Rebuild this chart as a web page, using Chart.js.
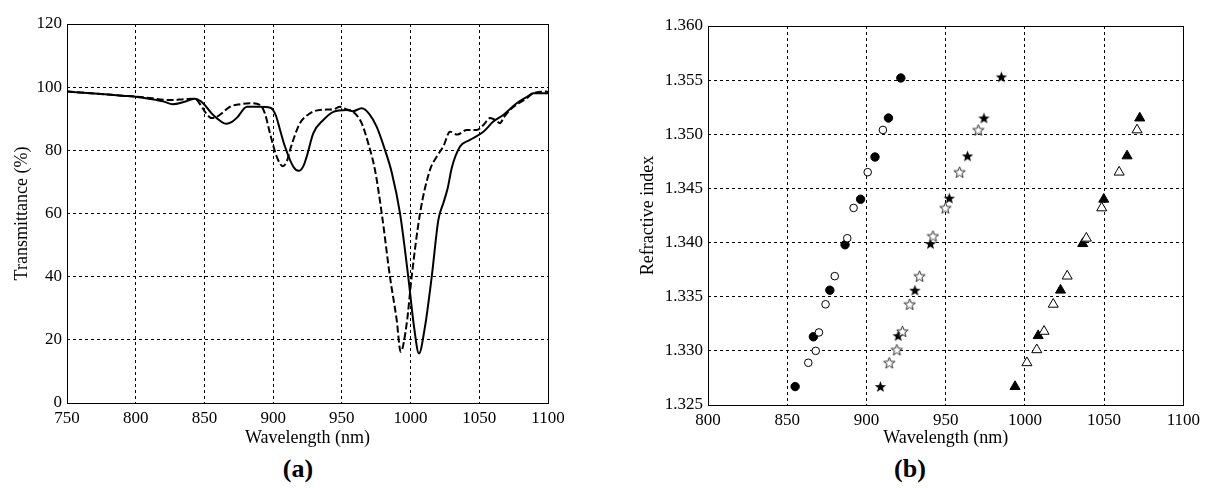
<!DOCTYPE html>
<html>
<head>
<meta charset="utf-8">
<script src="https://cdn.jsdelivr.net/npm/chart.js@4.4.1/dist/chart.umd.min.js"></script>
<style>
  body { margin: 0; background: #fff; width: 1205px; height: 488px; overflow: hidden; position: relative; }
  .box { position: absolute; top: 0; height: 450px; }
  #boxA { left: 0; width: 600px; }
  #boxB { left: 600px; width: 605px; }
  .tag { position: absolute; top: 454px; font: bold 26px "Liberation Serif", serif; transform: translateX(-50%); }
</style>
</head>
<body>
<div id="boxA" class="box"><canvas id="chartA"></canvas></div>
<div id="boxB" class="box"><canvas id="chartB"></canvas></div>
<div class="tag" style="left:298px">(a)</div>
<div class="tag" style="left:910px">(b)</div>
<script>
// ---------- (a) transmittance spectra ----------
const xTicksA = [750, 800, 850, 900, 950, 1000, 1050, 1100];
const yTicksA = [0, 20, 40, 60, 80, 100, 120];

const solidWl = [750, 770, 790, 800, 812, 820, 827, 835, 843, 849, 855, 859, 866, 870, 874, 881, 890, 898, 902, 905,
  908.6, 914.7, 918.5, 922, 924.4, 929.2, 936.5, 943.8, 953.5, 958, 964.4, 970, 975.3, 981.4, 986.3, 992.3, 998.3,
  1002.5, 1006.1, 1010.5, 1015.4, 1020.2, 1024, 1027, 1030, 1036, 1043.2, 1053, 1060.2, 1067.5, 1077.2, 1085, 1089.3, 1100];
const solidT = [98.6, 98.0, 97.3, 97.0, 96.2, 95.5, 94.6, 95.3, 96.3, 94.9, 91.8, 90.2, 88.4, 89.0, 90.5, 93.8, 93.8, 93.5, 91.0, 86.5,
  81.2, 74.8, 73.5, 75.0, 78.0, 85.4, 89.6, 92.2, 92.8, 92.4, 93.3, 91.5, 87.5, 80.1, 73.0, 60.1, 40.0,
  24.2, 15.7, 24.2, 40.0, 57.9, 63.5, 68.0, 74.5, 81.2, 83.3, 85.9, 89.1, 91.2, 94.9, 97.0, 98.1, 98.1];

const dashedWl = [750, 770, 790, 800, 812, 820, 827, 835, 843, 847, 850.4, 855.3, 859, 862.6, 868.6, 875.9, 883, 890.4, 894,
  897.7, 902.6, 907, 910, 912.3, 916, 919.5, 926.8, 934, 943.8, 948.6, 953, 958.3, 964.4, 969.2, 974.1, 979, 985,
  989.9, 992.8, 997.2, 1000.8, 1006.9, 1014.1, 1019, 1023.8, 1028.7, 1034, 1040.8, 1048, 1053, 1057.8, 1062, 1065,
  1068, 1072.3, 1084.5, 1089.3, 1099, 1100];
const dashedT = [98.6, 98.0, 97.3, 97.0, 96.5, 96.0, 95.9, 96.2, 96.3, 94.5, 92.2, 90.2, 90.6, 91.7, 93.8, 94.6, 94.9, 94.4, 91.7,
  85.4, 78.0, 75.0, 76.5, 80.1, 85.0, 88.6, 91.7, 92.8, 93.0, 93.8, 93.0, 92.2, 88.6, 82.2, 73.8, 60.1, 40.0,
  26.3, 16.2, 25.2, 40.0, 60.1, 73.8, 78.0, 81.2, 85.9, 85.0, 86.4, 86.4, 88.0, 90.2, 89.5, 88.6,
  90.5, 92.8, 96.5, 98.1, 98.6, 98.4];

// ---------- (b) refractive index vs wavelength ----------
const xTicksB = [800, 850, 900, 950, 1000, 1050, 1100];
const yTicksB = [1.325, 1.330, 1.335, 1.340, 1.345, 1.350, 1.355, 1.360];

const circFillWl = [855, 866.5, 876.9, 886.5, 896.3, 905.4, 913.9, 921.7];
const circFillN  = [1.3267, 1.3313, 1.3356, 1.3398, 1.3440, 1.3479, 1.3515, 1.3552];
const circOpenWl = [863.3, 868, 870, 874.2, 880, 887.9, 891.9, 900.8, 910.4];
const circOpenN  = [1.3289, 1.3300, 1.3317, 1.3343, 1.3369, 1.3404, 1.3432, 1.3465, 1.3504];

const starFillWl = [908.8, 920, 930.6, 940.4, 952.3, 963.8, 974.2, 985.2];
const starFillN  = [1.3267, 1.3314, 1.3356, 1.3399, 1.3441, 1.3480, 1.3515, 1.3553];
const starOpenWl = [914.4, 919.2, 922.7, 927.3, 933.5, 942, 949.8, 958.8, 970.6];
const starOpenN  = [1.3289, 1.3301, 1.3318, 1.3343, 1.3369, 1.3406, 1.3432, 1.3465, 1.3504];

const triFillWl = [993.8, 1008.4, 1022.5, 1036.5, 1049.8, 1064.5, 1072.5];
const triFillN  = [1.3267, 1.3314, 1.3356, 1.3399, 1.3440, 1.3480, 1.3515];
const triOpenWl = [1001.3, 1007.5, 1012.1, 1017.9, 1026.7, 1038.8, 1048.5, 1059.5, 1070.8];
const triOpenN  = [1.3289, 1.3301, 1.3318, 1.3343, 1.3369, 1.3404, 1.3432, 1.3465, 1.3504];

// ---------- helpers ----------
const pts = (xs, ys) => xs.map((x, i) => ({ x: x, y: ys[i] }));

function makeStar(filled) {
    const c = document.createElement("canvas");
    c.width = 13; c.height = 13;
    const g = c.getContext("2d");
    g.beginPath();
    for (let i = 0; i < 10; i++) {
        const r = i % 2 === 0 ? 6 : 2.5;
        const a = -Math.PI / 2 + i * Math.PI / 5;
        const px = 6.5 + r * Math.cos(a), py = 7 + r * Math.sin(a);
        if (i === 0) g.moveTo(px, py); else g.lineTo(px, py);
    }
    g.closePath();
    if (filled) { g.fillStyle = "#000"; g.fill(); }
    else { g.fillStyle = "#fff"; g.fill(); g.strokeStyle = "#333"; g.lineWidth = 1; g.stroke(); }
    return c;
}

// plot frame on all four sides
const frame = {
    id: "frame",
    afterDraw(chart) {
        const a = chart.chartArea, c = chart.ctx;
        c.save();
        c.strokeStyle = "#000";
        c.lineWidth = 1;
        c.strokeRect(Math.round(a.left) + 0.5, Math.round(a.top) + 0.5,
            Math.round(a.right - a.left), Math.round(a.bottom - a.top));
        c.restore();
    }
};

const serif = "'Liberation Serif', 'Times New Roman', serif";
const tickFont = { family: serif, size: 17 };
const titleFont = { family: serif, size: 18 };
const gridOpts = { color: "#000", lineWidth: 1, drawTicks: false };

Chart.defaults.color = "#000";
Chart.defaults.font.family = serif;
Chart.defaults.animation = false;

function axis(min, max, ticks, fmt, title, fitKey, fitVal, titlePad) {
    return {
        type: "linear",
        min: min, max: max,
        afterBuildTicks: s => { s.ticks = ticks.map(v => ({ value: v })); },
        afterFit: s => { s[fitKey] = fitVal; },
        ticks: { font: tickFont, padding: 5, callback: fmt, autoSkip: false, maxRotation: 0 },
        grid: gridOpts,
        border: { display: false, dash: [3, 3] },
        title: { display: true, text: title, font: titleFont, padding: titlePad }
    };
}

// ---------- chart (a) ----------
new Chart(document.getElementById("chartA"), {
    type: "scatter",
    data: {
        datasets: [
            {
                data: pts(dashedWl, dashedT), showLine: true, pointRadius: 0,
                borderColor: "#000", borderWidth: 2, borderDash: [7, 3], cubicInterpolationMode: "monotone"
            },
            {
                data: pts(solidWl, solidT), showLine: true, pointRadius: 0,
                borderColor: "#000", borderWidth: 2, cubicInterpolationMode: "monotone"
            }
        ]
    },
    options: {
        responsive: true, maintainAspectRatio: false,
        layout: { padding: { top: 24, right: 52, left: 0, bottom: 0 } },
        plugins: { legend: { display: false }, tooltip: { enabled: false } },
        scales: {
            x: axis(750, 1100, xTicksA, v => v, "Wavelength (nm)", "height", 47, { top: 0, bottom: 1 }),
            y: axis(0, 120, yTicksA, v => v, "Transmittance (%)", "width", 67, { top: 11, bottom: 0 })
        }
    },
    plugins: [frame]
});

// ---------- chart (b) ----------
const starFilled = makeStar(true), starOpen = makeStar(false);

new Chart(document.getElementById("chartB"), {
    type: "scatter",
    data: {
        datasets: [
            { data: pts(circOpenWl, circOpenN), pointStyle: "circle", pointRadius: 3.8, backgroundColor: "#fff", borderColor: "#000", borderWidth: 1 },
            { data: pts(circFillWl, circFillN), pointStyle: "circle", pointRadius: 4.2, backgroundColor: "#000", borderColor: "#000", borderWidth: 1 },
            { data: pts(starOpenWl, starOpenN), pointStyle: starOpen },
            { data: pts(starFillWl, starFillN), pointStyle: starFilled },
            { data: pts(triOpenWl, triOpenN), pointStyle: "triangle", pointRadius: 5.8, backgroundColor: "#fff", borderColor: "#000", borderWidth: 1 },
            { data: pts(triFillWl, triFillN), pointStyle: "triangle", pointRadius: 5.8, backgroundColor: "#000", borderColor: "#000", borderWidth: 1 }
        ]
    },
    options: {
        responsive: true, maintainAspectRatio: false,
        layout: { padding: { top: 26, right: 17, left: 0, bottom: 0 } },
        plugins: { legend: { display: false }, tooltip: { enabled: false } },
        scales: {
            x: axis(800, 1100, xTicksB, v => v, "Wavelength (nm)", "height", 45, { top: 0, bottom: 1 }),
            y: axis(1.325, 1.360, yTicksB, v => v.toFixed(3), "Refractive index", "width", 108, { top: 37, bottom: 0 })
        }
    },
    plugins: [frame]
});
</script>
</body>
</html>
